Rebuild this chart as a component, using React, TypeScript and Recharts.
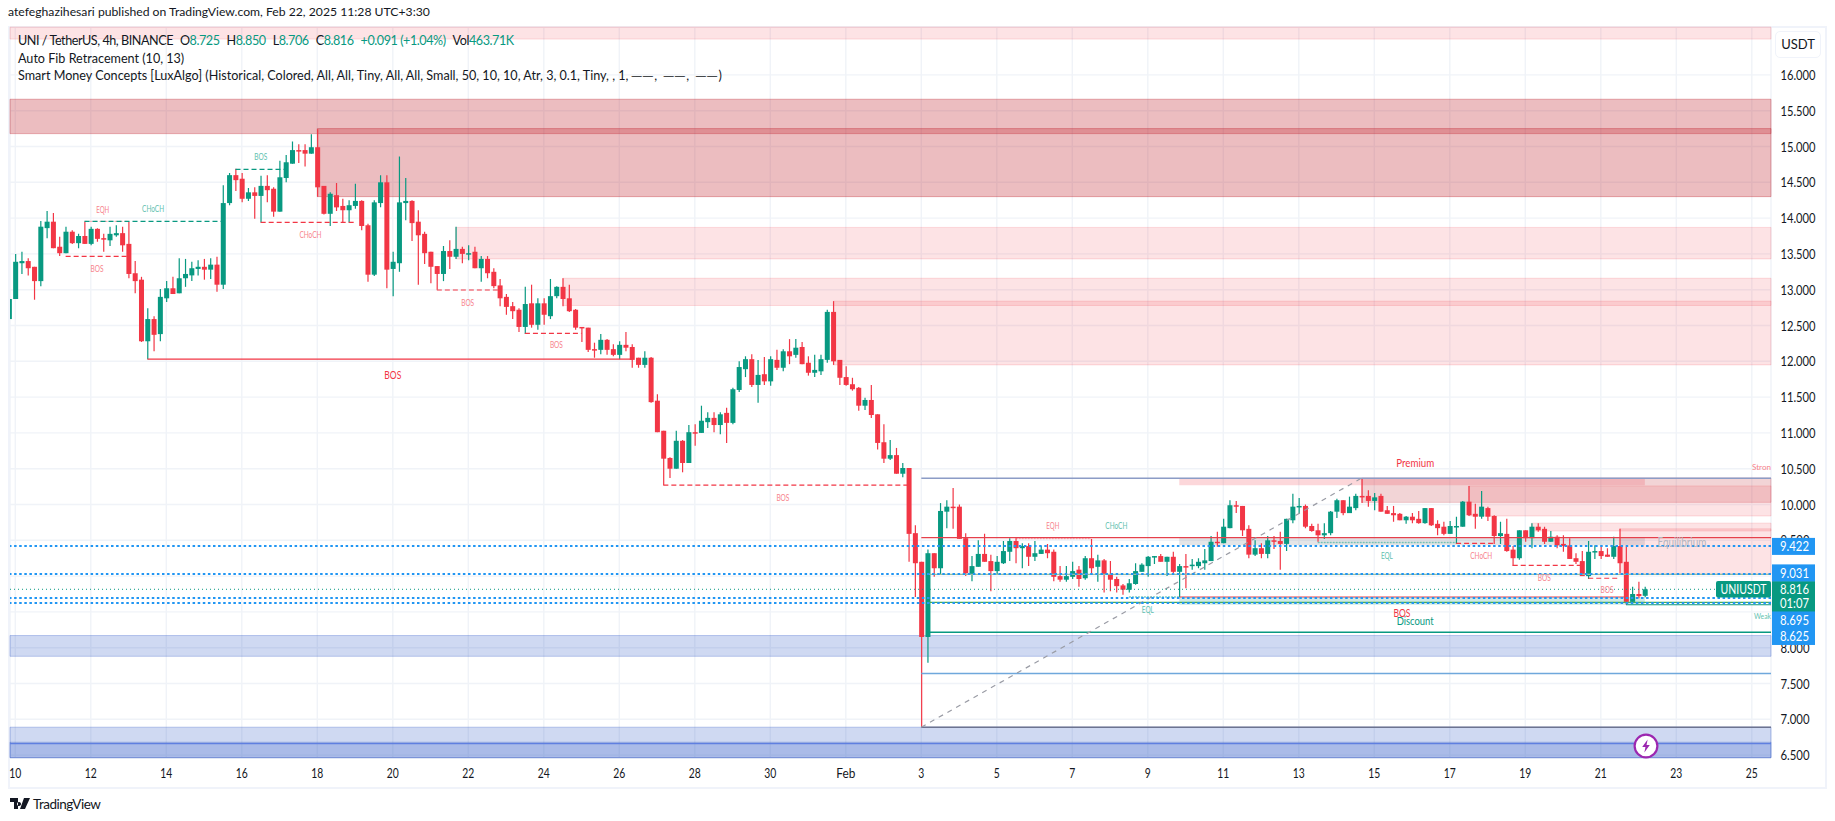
import React from 'react';
import {
  ComposedChart,
  Bar,
  XAxis,
  YAxis,
  CartesianGrid,
  ReferenceArea,
  ReferenceLine,
  ReferenceDot
} from 'recharts';

const FONT = 'Lato, "Open Sans", sans-serif';
const UP = '#089981';
const DOWN = '#F23645';
const BLUE = '#2196F3';

// 4h candles, first entry is the clipped bar just before Jan 10
const FIRST_BAR = -1;
const opens = [
  12.59, 12.87, 13.37, 13.40, 13.32, 13.12, 13.86, 13.95, 13.60, 13.51, 13.81, 13.65, 13.75, 13.64, 13.85, 13.72, 13.69, 13.76, 13.79, 13.64,
  13.23, 13.14, 12.28, 12.59, 12.38, 12.88, 13.02, 12.95, 13.16, 13.20, 13.29, 13.32, 13.28, 13.35, 13.07, 14.21, 14.60, 14.55, 14.27, 14.36,
  14.31, 14.45, 14.41, 14.09, 14.56, 14.76, 14.95, 14.95, 14.90, 14.99, 14.45, 14.06, 14.32, 14.17, 14.11, 14.17, 14.24, 13.90, 13.21, 14.21,
  14.50, 13.29, 13.37, 14.21, 14.24, 13.95, 13.78, 13.53, 13.33, 13.22, 13.54, 13.46, 13.57, 13.50, 13.53, 13.30, 13.43, 13.25, 13.06, 12.90,
  12.77, 12.72, 12.48, 12.81, 12.51, 12.81, 12.63, 12.91, 13.04, 12.88, 12.72, 12.48, 12.47, 12.17, 12.16, 12.30, 12.17, 12.09, 12.23, 12.20,
  12.05, 11.95, 12.05, 11.45, 11.03, 10.65, 10.50, 10.89, 10.58, 11.01, 11.00, 11.15, 11.21, 11.11, 11.28, 11.14, 11.60, 11.89, 12.03, 11.67,
  11.82, 11.72, 12.02, 11.91, 12.14, 12.09, 12.20, 11.98, 11.84, 11.86, 12.02, 12.69, 12.02, 11.78, 11.68, 11.63, 11.38, 11.46, 11.26, 10.87,
  10.64, 10.69, 10.43, 10.51, 9.60, 9.20, 8.15, 9.32, 9.11, 9.90, 9.97, 9.97, 9.53, 9.03, 9.13, 9.31, 9.21, 9.07, 9.18, 9.34,
  9.49, 9.39, 9.42, 9.27, 9.31, 9.37, 9.34, 9.00, 8.95, 8.99, 9.09, 8.97, 9.25, 9.13, 9.22, 9.02, 8.96, 8.87, 8.81, 8.89,
  9.06, 9.14, 9.27, 9.28, 9.20, 9.27, 9.06, 9.14, 9.14, 9.14, 9.18, 9.21, 9.48, 9.46, 9.67, 9.99, 9.98, 9.66, 9.30, 9.39,
  9.31, 9.50, 9.49, 9.45, 9.78, 9.97, 9.98, 9.70, 9.64, 9.57, 9.60, 9.90, 10.06, 9.88, 9.95, 10.12, 10.12, 10.05, 10.12, 9.92,
  9.88, 9.87, 9.78, 9.83, 9.80, 9.74, 9.95, 9.73, 9.69, 9.59, 9.69, 9.69, 10.04, 9.87, 9.83, 9.95, 9.84, 9.56, 9.59, 9.37,
  9.25, 9.64, 9.53, 9.69, 9.66, 9.48, 9.55, 9.45, 9.43, 9.25, 9.21, 9.00, 9.34, 9.35, 9.30, 9.27, 9.42, 9.20, 8.64, 8.75, 8.725
];
const highs = [
  12.87, 13.50, 13.53, 13.44, 13.32, 13.96, 14.10, 14.07, 13.74, 13.88, 13.83, 13.78, 13.95, 13.88, 13.86, 13.78, 13.88, 13.90, 13.88, 13.95,
  13.40, 13.18, 12.74, 12.63, 13.01, 13.12, 13.18, 13.44, 13.43, 13.39, 13.41, 13.43, 13.44, 13.46, 14.46, 14.63, 14.69, 14.63, 14.42, 14.43,
  14.59, 14.60, 14.43, 14.80, 14.88, 15.07, 15.03, 15.03, 15.17, 15.24, 14.45, 14.36, 14.49, 14.27, 14.25, 14.48, 14.25, 13.92, 14.25, 14.60,
  14.60, 13.53, 14.86, 14.56, 14.25, 14.11, 13.81, 13.53, 13.33, 13.61, 13.69, 13.88, 13.60, 13.62, 13.60, 13.47, 13.47, 13.30, 13.15, 12.94,
  12.83, 12.74, 13.04, 13.07, 12.88, 12.88, 13.15, 13.05, 13.16, 13.07, 12.73, 12.48, 12.47, 12.26, 12.38, 12.31, 12.24, 12.28, 12.41, 12.24,
  12.05, 12.14, 12.06, 11.54, 11.03, 10.66, 11.03, 10.90, 11.11, 11.12, 11.38, 11.29, 11.29, 11.29, 11.35, 11.63, 12.00, 12.07, 12.10, 12.02,
  12.06, 12.07, 12.16, 12.17, 12.31, 12.31, 12.27, 12.07, 12.09, 12.09, 12.72, 12.84, 12.02, 11.93, 11.77, 11.64, 11.49, 11.67, 11.26, 11.12,
  10.90, 10.79, 10.58, 10.51, 9.71, 9.20, 9.37, 9.32, 10.02, 10.06, 10.23, 10.00, 9.60, 9.28, 9.50, 9.59, 9.30, 9.28, 9.49, 9.53,
  9.53, 9.46, 9.46, 9.49, 9.42, 9.45, 9.37, 9.14, 9.14, 9.20, 9.14, 9.28, 9.52, 9.30, 9.24, 9.21, 8.99, 8.89, 8.96, 9.18,
  9.18, 9.28, 9.28, 9.31, 9.27, 9.34, 9.17, 9.31, 9.24, 9.25, 9.38, 9.56, 9.62, 9.80, 10.06, 10.05, 9.98, 9.71, 9.50, 9.46,
  9.56, 9.56, 9.62, 9.80, 10.15, 10.09, 10.00, 9.73, 9.73, 9.74, 9.91, 10.08, 10.06, 10.11, 10.15, 10.37, 10.20, 10.16, 10.15, 9.98,
  9.98, 9.88, 9.84, 9.88, 9.91, 9.95, 9.95, 9.78, 9.76, 9.77, 9.83, 10.05, 10.26, 10.01, 10.19, 9.97, 9.85, 9.76, 9.80, 9.42,
  9.64, 9.64, 9.74, 9.74, 9.69, 9.63, 9.57, 9.57, 9.53, 9.32, 9.35, 9.49, 9.43, 9.41, 9.39, 9.55, 9.66, 9.41, 8.85, 8.92, 8.85
];
const lows = [
  12.59, 12.87, 13.22, 13.20, 12.86, 13.05, 13.72, 13.58, 13.47, 13.51, 13.64, 13.58, 13.64, 13.62, 13.67, 13.53, 13.61, 13.74, 13.53, 13.16,
  12.95, 12.27, 12.03, 12.14, 12.28, 12.83, 12.94, 12.95, 13.04, 13.12, 13.20, 13.14, 13.15, 12.97, 13.01, 14.18, 14.38, 14.22, 14.24, 13.99,
  13.94, 14.22, 14.02, 14.09, 14.50, 14.76, 14.77, 14.72, 14.90, 14.30, 14.05, 13.89, 14.10, 13.94, 13.94, 14.13, 13.83, 13.11, 13.19, 14.15,
  13.02, 12.91, 13.25, 13.97, 13.68, 13.07, 13.36, 13.09, 13.00, 13.12, 13.29, 13.43, 13.37, 13.41, 13.30, 13.11, 13.16, 13.02, 12.77, 12.65,
  12.59, 12.41, 12.38, 12.47, 12.44, 12.51, 12.59, 12.88, 12.77, 12.69, 12.44, 12.27, 12.13, 12.05, 12.10, 12.09, 12.07, 12.03, 12.14, 11.91,
  11.91, 11.91, 11.42, 11.01, 10.27, 10.37, 10.50, 10.45, 10.58, 10.82, 11.00, 11.07, 11.01, 10.98, 10.86, 11.12, 11.57, 11.78, 11.64, 11.42,
  11.67, 11.66, 11.88, 11.86, 11.96, 12.05, 11.96, 11.80, 11.78, 11.81, 11.98, 11.95, 11.67, 11.66, 11.59, 11.31, 11.32, 11.21, 10.77, 10.58,
  10.62, 10.43, 10.38, 9.20, 8.71, 6.89, 7.79, 8.99, 9.02, 9.67, 9.66, 9.52, 9.00, 8.93, 9.13, 9.20, 8.79, 9.02, 9.17, 9.21,
  9.18, 9.11, 9.14, 9.21, 9.31, 9.25, 8.93, 8.92, 8.92, 8.96, 8.85, 8.95, 9.04, 8.92, 8.77, 8.79, 8.77, 8.74, 8.77, 8.88,
  9.06, 8.99, 9.17, 9.20, 9.00, 9.03, 8.71, 8.83, 9.09, 9.11, 9.09, 9.21, 9.41, 9.46, 9.67, 9.88, 9.56, 9.25, 9.28, 9.25,
  9.25, 9.38, 9.09, 9.35, 9.74, 9.87, 9.67, 9.62, 9.48, 9.52, 9.57, 9.81, 9.85, 9.88, 9.92, 10.02, 9.97, 9.92, 9.90, 9.87,
  9.76, 9.78, 9.73, 9.74, 9.73, 9.73, 9.70, 9.57, 9.57, 9.59, 9.45, 9.69, 9.84, 9.66, 9.80, 9.77, 9.45, 9.45, 9.34, 9.14,
  9.23, 9.48, 9.39, 9.62, 9.45, 9.48, 9.39, 9.34, 9.24, 9.17, 9.00, 8.96, 9.24, 9.24, 9.27, 9.24, 9.04, 8.60, 8.64, 8.69, 8.706
];
const closes = [
  12.87, 13.39, 13.40, 13.30, 13.12, 13.88, 13.95, 13.58, 13.51, 13.81, 13.65, 13.75, 13.64, 13.85, 13.71, 13.71, 13.78, 13.79, 13.62, 13.22,
  13.12, 12.28, 12.59, 12.37, 12.90, 13.02, 12.94, 13.16, 13.22, 13.30, 13.32, 13.28, 13.35, 13.07, 14.21, 14.60, 14.53, 14.27, 14.36, 14.31,
  14.45, 14.39, 14.09, 14.57, 14.78, 14.95, 14.94, 14.90, 14.99, 14.43, 14.06, 14.34, 14.15, 14.11, 14.18, 14.24, 13.89, 13.21, 14.22, 14.50,
  13.28, 13.39, 14.22, 14.24, 13.93, 13.76, 13.51, 13.32, 13.22, 13.54, 13.46, 13.57, 13.50, 13.51, 13.30, 13.43, 13.23, 13.05, 12.88, 12.76,
  12.70, 12.48, 12.80, 12.51, 12.81, 12.65, 12.91, 13.04, 12.87, 12.70, 12.47, 12.47, 12.16, 12.16, 12.30, 12.16, 12.09, 12.23, 12.19, 12.02,
  11.95, 12.05, 11.43, 11.01, 10.64, 10.50, 10.89, 10.58, 11.01, 11.00, 11.17, 11.21, 11.11, 11.26, 11.14, 11.61, 11.92, 12.03, 11.67, 11.81,
  11.72, 12.03, 11.91, 12.14, 12.07, 12.19, 11.96, 11.84, 11.88, 12.03, 12.69, 12.00, 11.77, 11.67, 11.61, 11.38, 11.46, 11.25, 10.86, 10.64,
  10.69, 10.43, 10.51, 9.59, 9.18, 8.15, 9.32, 9.11, 9.91, 9.97, 9.95, 9.52, 9.04, 9.14, 9.31, 9.20, 9.07, 9.20, 9.35, 9.49,
  9.39, 9.42, 9.27, 9.32, 9.37, 9.32, 8.99, 8.95, 9.00, 9.07, 8.96, 9.25, 9.11, 9.22, 9.02, 8.95, 8.86, 8.81, 8.90, 9.07,
  9.16, 9.27, 9.28, 9.20, 9.27, 9.06, 9.14, 9.13, 9.16, 9.20, 9.22, 9.48, 9.46, 9.69, 9.99, 9.97, 9.64, 9.30, 9.39, 9.31,
  9.50, 9.49, 9.45, 9.80, 9.97, 9.98, 9.69, 9.63, 9.57, 9.60, 9.90, 10.06, 9.88, 9.97, 10.12, 10.10, 10.05, 10.10, 9.90, 9.87,
  9.85, 9.78, 9.83, 9.78, 9.74, 9.95, 9.71, 9.67, 9.59, 9.70, 9.70, 10.04, 9.85, 9.83, 9.97, 9.83, 9.56, 9.60, 9.35, 9.25,
  9.64, 9.53, 9.69, 9.64, 9.48, 9.55, 9.43, 9.42, 9.24, 9.20, 9.00, 9.34, 9.35, 9.28, 9.27, 9.42, 9.18, 8.64, 8.75, 8.72, 8.816
];

const candles = opens.map((open, i) => ({
  bar: i + FIRST_BAR,
  open,
  close: closes[i],
  range: [lows[i], highs[i]]
}));

const dayTicks = [0, 12, 24, 36, 48, 60, 72, 84, 96, 108, 120, 132, 144, 156, 168, 180, 192, 204, 216, 228, 240, 252, 264, 276];
const dayLabels = ['10', '12', '14', '16', '18', '20', '22', '24', '26', '28', '30', 'Feb', '3', '5', '7', '9', '11', '13', '15', '17', '19', '21', '23', '25'];
const priceTicks = [6.5, 7, 7.5, 8, 8.5, 9, 9.5, 10, 10.5, 11, 11.5, 12, 12.5, 13, 13.5, 14, 14.5, 15, 15.5, 16];
// these two sit fully behind price tags in the original, only their grid lines show
const coveredTicks = [8.5, 9];

const X_MIN = -0.842;
const X_MAX = 279.05;
const Y_MIN = 6.464;
const Y_MAX = 16.669;

const PALE = { fill: 'rgba(242,54,69,0.14)', stroke: 'rgba(242,54,69,0.16)' };
const DARK = { fill: 'rgba(192,38,48,0.3)', stroke: 'rgba(192,38,48,0.35)' };
const DARK_LIGHT = { fill: 'rgba(192,38,48,0.2)', stroke: 'rgba(192,38,48,0.22)' };
const INDIGO = { fill: 'rgba(49,90,200,0.23)', stroke: 'rgba(49,90,200,0.3)' };

const zones = [
  { from: X_MIN, top: Y_MAX, bottom: 16.5, ...PALE },
  { from: X_MIN, top: 15.66, bottom: 15.18, ...DARK },
  { from: 48, top: 15.25, bottom: 14.3, ...DARK },
  { from: 70, top: 13.87, bottom: 13.43, ...PALE },
  { from: 87, top: 13.16, bottom: 12.78, ...PALE },
  { from: 130, top: 12.84, bottom: 11.95, ...PALE },
  { from: 214, top: 10.37, bottom: 10.03, ...DARK_LIGHT },
  { from: 231, top: 10.26, bottom: 9.84, ...PALE },
  { from: 241, top: 9.74, bottom: 9.63, ...PALE },
  { from: 255, top: 9.66, bottom: 9.03, ...PALE },
  { from: X_MIN, top: 8.17, bottom: 7.88, ...INDIGO },
  { from: X_MIN, top: 6.89, bottom: Y_MIN, ...INDIGO },
  { from: X_MIN, top: 6.68, bottom: Y_MIN, ...INDIGO },
  // premium / equilibrium / discount
  { from: 185, to: 259, top: 10.36, bottom: 10.27, fill: 'rgba(242,54,69,0.2)', stroke: 'none' },
  { from: 185, to: 259, top: 9.54, bottom: 9.43, fill: 'rgba(120,123,134,0.2)', stroke: 'none' },
  { from: 185, to: 259, top: 8.71, bottom: 8.6, fill: 'rgba(8,153,129,0.2)', stroke: 'none' }
];

const levels = [
  { from: 144, to: X_MAX, price: 10.366, color: '#8c9cc6', width: 1.5 },
  { from: 144, to: X_MAX, price: 9.537, color: '#e5404b', width: 1.2 },
  { from: 145, to: X_MAX, price: 9.025, color: '#9cc09a', width: 1.2 },
  { from: 185, to: 256, price: 8.708, color: '#e5404b', width: 1.2 },
  { from: 145, to: X_MAX, price: 8.633, color: '#4caf50', width: 1.2 },
  { from: 256, to: X_MAX, price: 8.6, color: UP, width: 1.2 },
  { from: 145, to: X_MAX, price: 8.215, color: UP, width: 1.5 },
  { from: 144, to: X_MAX, price: 7.64, color: '#6fa8dc', width: 1.5 },
  { from: 144, to: X_MAX, price: 6.89, color: '#6c7390', width: 1.5 },
  { from: 21, to: 98, price: 12.03, color: DOWN, width: 1.2 },
  // structure breaks
  { from: 11, to: 18, price: 13.955, color: 'rgba(242,54,69,0.45)', width: 1, dash: '3 2' },
  { from: 11, to: 33, price: 13.955, color: UP, width: 1.2, dash: '5 3' },
  { from: 8, to: 18, price: 13.466, color: DOWN, width: 1.2, dash: '5 3' },
  { from: 35, to: 43, price: 14.68, color: UP, width: 1.2, dash: '5 3' },
  { from: 39, to: 54, price: 13.94, color: DOWN, width: 1.2, dash: '5 3' },
  { from: 67, to: 77, price: 12.996, color: DOWN, width: 1.2, dash: '5 3' },
  { from: 81, to: 90, price: 12.39, color: DOWN, width: 1.2, dash: '5 3' },
  { from: 103, to: 142, price: 10.27, color: DOWN, width: 1.2, dash: '5 3' },
  { from: 159, to: 171, price: 9.525, color: 'rgba(242,54,69,0.4)', width: 1.5, dash: '2 1' },
  { from: 177, to: 185, price: 8.71, color: 'rgba(8,153,129,0.5)', width: 1.5, dash: '2 1' },
  { from: 207, to: 229, price: 9.47, color: 'rgba(8,153,129,0.5)', width: 1.5, dash: '2 1' },
  { from: 229, to: 235, price: 9.458, color: DOWN, width: 1.2, dash: '5 3' },
  { from: 238, to: 249, price: 9.15, color: DOWN, width: 1.2, dash: '5 3' },
  { from: 250, to: 255, price: 8.97, color: DOWN, width: 1.2, dash: '5 3' }
];

const notes = [
  { bar: 13.9, price: 14.12, text: 'EQH', color: '#f7838c', size: 9, len: 13 },
  { bar: 21.9, price: 14.13, text: 'CHoCH', color: '#5fbfaf', size: 9, len: 22 },
  { bar: 13, price: 13.3, text: 'BOS', color: '#f7838c', size: 9, len: 13 },
  { bar: 39, price: 14.86, text: 'BOS', color: '#5fbfaf', size: 9, len: 13 },
  { bar: 46.9, price: 13.77, text: 'CHoCH', color: '#f7838c', size: 9, len: 22 },
  { bar: 60, price: 11.82, text: 'BOS', color: DOWN, size: 12, len: 17 },
  { bar: 71.9, price: 12.82, text: 'BOS', color: '#f7838c', size: 9, len: 13 },
  { bar: 86, price: 12.24, text: 'BOS', color: '#f7838c', size: 9, len: 13 },
  { bar: 122, price: 10.1, text: 'BOS', color: '#f7838c', size: 9, len: 13 },
  { bar: 164.9, price: 9.7, text: 'EQH', color: '#f7838c', size: 9, len: 13 },
  { bar: 175, price: 9.71, text: 'CHoCH', color: '#5fbfaf', size: 9, len: 22 },
  { bar: 180, price: 8.53, text: 'EQL', color: '#5fbfaf', size: 9, len: 12 },
  { bar: 218, price: 9.285, text: 'EQL', color: '#5fbfaf', size: 9, len: 12 },
  { bar: 233, price: 9.285, text: 'CHoCH', color: '#f7838c', size: 9, len: 22 },
  { bar: 243, price: 8.98, text: 'BOS', color: '#f7838c', size: 9, len: 13 },
  { bar: 253, price: 8.815, text: 'BOS', color: '#f7838c', size: 9, len: 13 },
  { bar: 222.5, price: 10.58, text: 'Premium', color: DOWN, size: 12, len: 38 },
  { bar: 222.5, price: 8.38, text: 'Discount', color: UP, size: 12, len: 37 },
  { bar: 220.4, price: 8.49, text: 'BOS', color: DOWN, size: 12, len: 17 },
  { bar: 264.9, price: 9.48, text: 'Equilibrium', color: '#b2b5be', size: 13, len: 49 },
  { bar: 279.05, price: 10.53, text: 'Stron', color: '#f7838c', size: 8, len: 19, anchor: 'end' },
  { bar: 279.05, price: 8.44, text: 'Weak', color: '#5fbfaf', size: 8, len: 17, anchor: 'end' }
];

// dotted levels with their tag on the price scale; dy nudges a tag so they do not overlap
const dottedLevels = [
  { price: 9.422, dy: 0.5 },
  { price: 9.031, dy: -1 },
  { price: 8.695, dy: 22 },
  { price: 8.625, dy: 33.5 }
];

function Candle(props: any) {
  const { x, y, width, height, payload } = props;
  const [low, high] = payload.range;
  const perUnit = height / (high - low || 1);
  const top = y + (high - Math.max(payload.open, payload.close)) * perUnit;
  const bottom = y + (high - Math.min(payload.open, payload.close)) * perUnit;
  const color = payload.close >= payload.open ? UP : DOWN;
  const center = x + width / 2;
  return (
    <g>
      <line x1={center} x2={center} y1={y} y2={y + height} stroke={color} strokeWidth={1.2} />
      <rect x={x} y={top} width={width} height={Math.max(bottom - top, 1.5)} fill={color} />
    </g>
  );
}

// the original scale font is much narrower than anything installed, so squeeze the glyphs
function Squeezed({ len, children, ...rest }: any) {
  return (
    <text fontFamily={FONT} textLength={len} lengthAdjust="spacingAndGlyphs" {...rest}>
      {children}
    </text>
  );
}

function PriceTick({ x, y, payload }: any) {
  if (coveredTicks.includes(payload.value)) return null;
  return (
    <Squeezed x={x} y={y + 5} len={payload.value >= 10 ? 35 : 29} fontSize={14} fill="#131722">
      {payload.value.toFixed(3)}
    </Squeezed>
  );
}

function DayTick({ x, y, payload }: any) {
  const label = dayLabels[dayTicks.indexOf(payload.value)];
  const len = label === 'Feb' ? 19 : label.length * 6;
  return (
    <Squeezed x={x} y={y + 10} len={len} textAnchor="middle" fontSize={14} fill="#131722">
      {label}
    </Squeezed>
  );
}

function PriceTag({ viewBox, text, dy }: any) {
  const mid = viewBox.y + dy;
  return (
    <g>
      <rect x={1772} y={mid - 8.5} width={43} height={17} fill={BLUE} />
      <Squeezed x={1780} y={mid + 5} len={29} fontSize={14} fill="#fff">
        {text}
      </Squeezed>
    </g>
  );
}

function LastPriceTag({ viewBox }: any) {
  const mid = viewBox.y;
  return (
    <g fill="#fff">
      <rect x={1716} y={mid - 8.2} width={55} height={16.4} rx={2} fill={UP} />
      <Squeezed x={1720.5} y={mid + 5} len={46} fontSize={14}>UNIUSDT</Squeezed>
      <rect x={1772} y={mid - 8.2} width={43} height={31} fill={UP} />
      <Squeezed x={1780} y={mid + 5} len={29} fontSize={14}>8.816</Squeezed>
      <Squeezed x={1780} y={mid + 19} len={29} fontSize={14}>01:07</Squeezed>
    </g>
  );
}

const legendRow: React.CSSProperties = {
  position: 'absolute',
  left: 18,
  fontSize: 12.6,
  fontFamily: FONT,
  color: '#131722',
  whiteSpace: 'nowrap'
};

function Val({ label, value }: { label: string; value: string }) {
  return (
    <span style={{ marginLeft: 7 }}>
      {label}
      <span style={{ color: UP }}>{value}</span>
    </span>
  );
}

export default function App() {
  return (
    <div style={{ position: 'absolute', left: 0, top: 0, width: 1835, height: 821, background: '#fff', overflow: 'hidden' }}>
      <div style={{ position: 'absolute', left: 8, top: 26, width: 1815, height: 759, border: '2px solid #f0f3fa' }} />
      <div style={{ position: 'absolute', left: 0, top: 0 }}>
        <ComposedChart
          width={1835}
          height={821}
          data={candles}
          margin={{ top: 27, right: 0, bottom: 33.3, left: 10 }}
        >
          <CartesianGrid stroke="#f0f3f8" strokeWidth={1.4} />
          <XAxis
            dataKey="bar"
            type="number"
            domain={[X_MIN, X_MAX]}
            allowDataOverflow
            ticks={dayTicks}
            interval={0}
            height={30}
            axisLine={false}
            tickLine={false}
            tickMargin={4}
            tick={<DayTick />}
          />
          <YAxis
            orientation="right"
            width={64}
            domain={[Y_MIN, Y_MAX]}
            allowDataOverflow
            ticks={priceTicks}
            interval={0}
            axisLine={false}
            tickLine={false}
            tickMargin={3.5}
            tick={<PriceTick />}
          />
          {zones.map((z, i) => (
            <ReferenceArea
              key={i}
              x1={z.from}
              x2={z.to ?? X_MAX}
              y1={z.bottom}
              y2={z.top}
              fill={z.fill}
              fillOpacity={1}
              stroke={z.stroke}
            />
          ))}
          <ReferenceLine y={6.66} stroke="#5f7fe0" strokeWidth={1.2} />
          {levels.map((l, i) => (
            <ReferenceLine
              key={i}
              segment={[{ x: l.from, y: l.price }, { x: l.to, y: l.price }]}
              stroke={l.color}
              strokeWidth={l.width}
              strokeDasharray={l.dash}
            />
          ))}
          <ReferenceLine
            segment={[{ x: 144, y: 6.89 }, { x: 214, y: 10.37 }]}
            stroke="#9a9ca5"
            strokeWidth={1.2}
            strokeDasharray="5 5"
          />
          <Bar dataKey="range" barSize={5} isAnimationActive={false} shape={<Candle />} />
          <ReferenceLine y={8.816} stroke={UP} strokeWidth={1} strokeDasharray="1 3" />
          {dottedLevels.map((d) => (
            <ReferenceLine key={d.price} y={d.price} stroke={BLUE} strokeWidth={2} strokeDasharray="2.5 2.6" />
          ))}
          {notes.map((n, i) => (
            <ReferenceDot
              key={i}
              x={n.bar}
              y={n.price}
              r={0}
              stroke="none"
              fill="none"
              label={(p: any) => (
                <Squeezed
                  x={p.viewBox.x + (p.viewBox.width || 0) / 2}
                  y={p.viewBox.y + (p.viewBox.height || 0) / 2}
                  len={n.len}
                  textAnchor={n.anchor ?? 'middle'}
                  dominantBaseline="central"
                  fontSize={n.size}
                  fill={n.color}
                >
                  {n.text}
                </Squeezed>
              )}
            />
          ))}
        </ComposedChart>
      </div>

      {/* second layer with the same scales: the price tags have to sit above the axis labels */}
      <div style={{ position: 'absolute', left: 0, top: 0 }}>
        <ComposedChart
          width={1835}
          height={821}
          data={candles}
          margin={{ top: 27, right: 64, bottom: 63.3, left: 10 }}
        >
          <XAxis dataKey="bar" type="number" domain={[X_MIN, X_MAX]} allowDataOverflow hide />
          <YAxis domain={[Y_MIN, Y_MAX]} allowDataOverflow hide />
          <ReferenceLine y={8.816} stroke="none" label={<LastPriceTag />} />
          {dottedLevels.map((d) => (
            <ReferenceLine
              key={d.price}
              y={d.price}
              stroke="none"
              label={<PriceTag text={d.price.toFixed(3)} dy={d.dy} />}
            />
          ))}
        </ComposedChart>
      </div>

      <div style={{ ...legendRow, left: 8, top: 4, fontSize: 12.2 }}>
        atefeghazihesari published on TradingView.com, Feb 22, 2025 11:28 UTC+3:30
      </div>
      <div style={{ ...legendRow, top: 33, letterSpacing: -0.45 }}>
        UNI / TetherUS, 4h, BINANCE
        <Val label="O" value="8.725" />
        <Val label="H" value="8.850" />
        <Val label="L" value="8.706" />
        <Val label="C" value="8.816" />
        <Val label="" value="+0.091 (+1.04%)" />
        <Val label="Vol" value="463.71K" />
      </div>
      <div style={{ ...legendRow, top: 51 }}>Auto Fib Retracement (10, 13)</div>
      <div style={{ ...legendRow, top: 68 }}>
        Smart Money Concepts [LuxAlgo] (Historical, Colored, All, All, Tiny, All, All, Small, 50, 10, 10, Atr, 3, 0.1, Tiny, , 1,{' '}
        <span style={{ letterSpacing: 1.8 }}>──, ──, ──</span>)
      </div>

      <div
        style={{
          position: 'absolute',
          left: 1775,
          top: 31,
          width: 44,
          height: 25,
          border: '1px solid #f0f3fa',
          borderRadius: 5,
          textAlign: 'center',
          lineHeight: '25px',
          fontSize: 13,
          fontFamily: FONT,
          color: '#131722'
        }}
      >
        USDT
      </div>

      <svg style={{ position: 'absolute', left: 1633, top: 733 }} width={26} height={26} viewBox="0 0 24 24">
        <circle cx={12} cy={12} r={10.5} fill="#fff" stroke="#9c27b0" strokeWidth={2} />
        <path d="M13.5 6 L8.5 13 H11.5 L10.5 18 L15.5 11 H12.5 Z" fill="#9c27b0" />
      </svg>

      <svg style={{ position: 'absolute', left: 10, top: 798 }} width={20} height={12} viewBox="0 0 20 12">
        <path d="M0 0 H8 V11 H4 V4 H0 Z M9 4 a2 2 0 1 0 0.01 0 Z M14 0 H20 L15 11 H10 Z" fill="#131722" />
      </svg>
      <div style={{ ...legendRow, left: 33, top: 796, fontSize: 13.5, letterSpacing: -0.5 }}>TradingView</div>
    </div>
  );
}
